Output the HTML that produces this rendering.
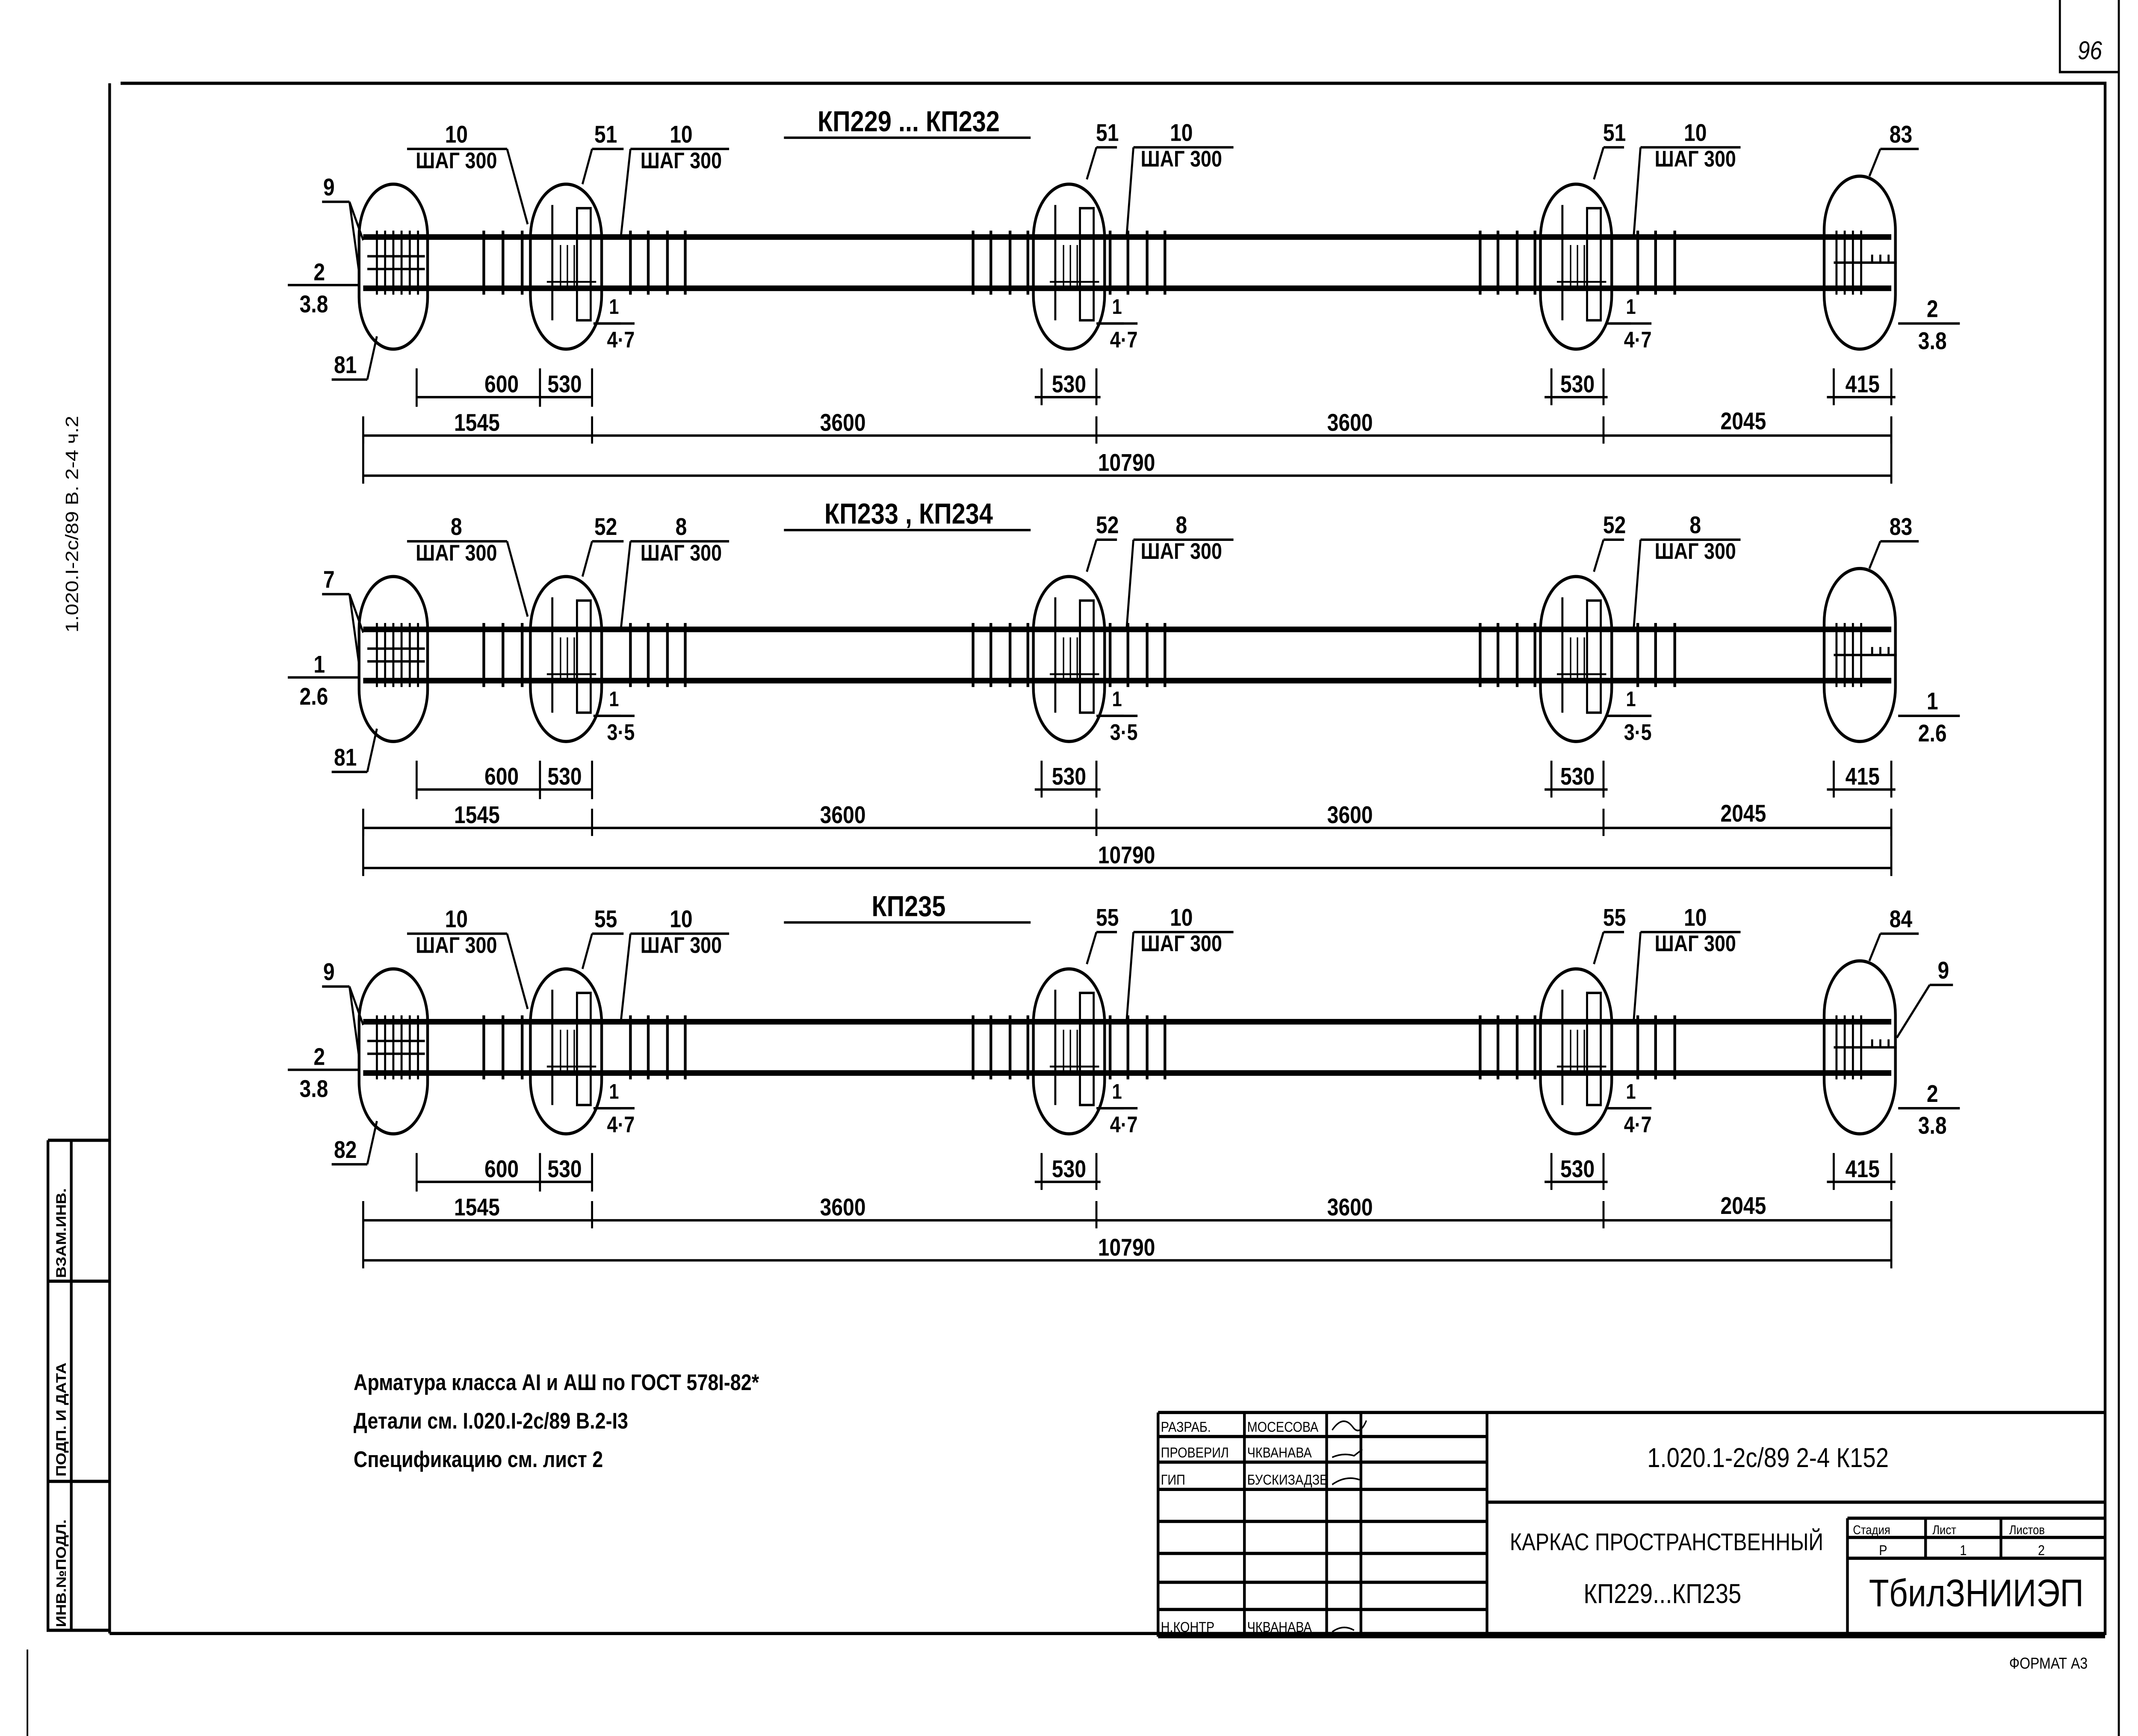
<!DOCTYPE html>
<html><head><meta charset="utf-8">
<style>
html,body{margin:0;padding:0;background:#fff;width:100%;height:100%;overflow:hidden;}
svg{display:block;position:fixed;left:0;top:0;width:100vw;height:100vh;}
text{font-family:"Liberation Sans","DejaVu Sans",sans-serif;fill:#000;}
#beams text{font-weight:bold;}
</style></head>
<body>
<svg id="s" xmlns="http://www.w3.org/2000/svg" viewBox="0 0 1560 1084" preserveAspectRatio="none">
<g stroke="#000" fill="none" stroke-width="2">
<path d="M88 52 H1536 V1020 H80"/>
<path d="M80 52 V1020"/>
<path d="M1546 0 V1084" stroke-width="1.5"/>
<path d="M1503 0 V45 H1546" stroke-width="1.5"/>
<path d="M20 1030 V1084" stroke-width="1.2"/>
<path d="M35 712 H80 M35 712 V1018 H80 M52 712 V1018 M35 800 H80 M35 925 H80"/>
</g>
<text x="1516" y="37" font-size="16" font-style="italic">96</text>
<text transform="translate(57,395) rotate(-90)" font-size="13" font-family="Liberation Mono">1.020.I-2c/89  B. 2-4  ч.2</text>
<text transform="translate(48,798) rotate(-90)" font-size="10" font-weight="bold">ВЗАМ.ИНВ.</text>
<text transform="translate(48,922) rotate(-90)" font-size="10" font-weight="bold">ПОДП. И ДАТА</text>
<text transform="translate(48,1016) rotate(-90)" font-size="10" font-weight="bold">ИНВ.№ПОДЛ.</text>
<g id="beams"></g>
<text x="258" y="868" font-size="14" font-family="Liberation Serif" font-weight="bold">Арматура класса АI и АШ по ГОСТ 578I-82*</text>
<text x="258" y="892" font-size="14" font-family="Liberation Serif" font-weight="bold">Детали см. I.020.I-2с/89 В.2-I3</text>
<text x="258" y="916" font-size="14" font-family="Liberation Serif" font-weight="bold">Спецификацию см. лист 2</text>
<g stroke="#000" fill="none" stroke-width="2">
<path d="M845 882 H1536 M845 882 V1022 M845 1022 H1536"/>
<path d="M908 882 V1022 M968 882 V1022 M993 882 V1022 M1085 882 V1022"/>
<path d="M845 897 H1085 M845 913 H1085 M845 930 H1085 M845 950 H1085 M845 970 H1085 M845 988 H1085 M845 1005 H1085"/>
<path d="M1085 938 H1536 M1348 948 V1022 M1348 948 H1536 M1405 948 V973 M1460 948 V973 M1348 960 H1536 M1348 973 H1536"/>
</g>
<g font-size="9">
<text x="847" y="894">РАЗРАБ.</text><text x="910" y="894">МОСЕСОВА</text>
<text x="847" y="910">ПРОВЕРИЛ</text><text x="910" y="910">ЧКВАНАВА</text>
<text x="847" y="927">ГИП</text><text x="910" y="927">БУСКИЗАДЗЕ</text>
<text x="847" y="1019">Н.КОНТР</text><text x="910" y="1019">ЧКВАНАВА</text>
<text x="1352" y="958" font-size="8">Стадия</text><text x="1410" y="958" font-size="8">Лист</text><text x="1466" y="958" font-size="8">Листов</text>
<text x="1371" y="971">Р</text><text x="1430" y="971">1</text><text x="1487" y="971">2</text>
</g>
<g fill="none" stroke="#000" stroke-width="1">
<path d="M972 893 q8 -10 15 -2 q5 6 10 -4"/><path d="M972 910 q8 -3 16 -1 l6 -4"/><path d="M972 927 q10 -6 20 -3"/><path d="M972 1019 q8 -5 16 -1"/>
</g>
<text x="1290" y="916" font-size="17" text-anchor="middle">1.020.1-2с/89 2-4   К152</text>
<text x="1216" y="968" font-size="15" text-anchor="middle">КАРКАС ПРОСТРАНСТВЕННЫЙ</text>
<text x="1213" y="1001" font-size="17" text-anchor="middle">КП229...КП235</text>
<text x="1442" y="1003" font-size="24" text-anchor="middle">ТбилЗНИИЭП</text>
<text x="1466" y="1042" font-size="10">ФОРМАТ А3</text>
</svg>
<script>
const NS="http://www.w3.org/2000/svg";const G=document.getElementById('beams');
function el(t,a,txt){const e=document.createElementNS(NS,t);for(const k in a)e.setAttribute(k,a[k]);if(txt!==undefined)e.textContent=txt;G.appendChild(e);return e;}
function L(x1,y1,x2,y2,w){el('line',{x1,y1,x2,y2,stroke:'#000','stroke-width':w||2});}
function T(x,y,s,sz,anc){el('text',{x,y,'font-size':sz||15,'text-anchor':anc||'middle'},s);}
function oval(cx,y0,y1,w){const rx=w/2;el('rect',{x:cx-rx,y:y0,width:w,height:y1-y0,rx:rx,ry:rx*1.3,fill:'none',stroke:'#000','stroke-width':2});}
function lead(x1,y1,x2,y2,x3){L(x1,y1,x2,y2,1.5);L(x2,y2,x3,y2,1.5);}
function beam(dy,cfg){
 const yt=148+dy,yb=180+dy,ym=164+dy;
 L(265,yt,1380,yt,3.5);L(265,yb,1380,yb,3.5);
 oval(287,115+dy,218+dy,50);oval(1357,110+dy,218+dy,52);
 [413,780,1150].forEach(c=>oval(c,115+dy,218+dy,52));
 for(let x of [275,281,287,293,299,305]) L(x,yt-4,x,yb+4,1.5);
 L(268,ym-4,310,ym-4,1.5);L(268,ym+4,310,ym+4,1.5);
 for(let x of [1340,1346,1352,1358]) L(x,yt-4,x,yb+4,1.5);
 L(1338,ym,1384,ym,1.5);for(let x of [1366,1372,1378]) L(x,ym-5,x,ym,1.5);
 const st=[353,367,381,460,473,487,500,710,723,737,750,810,823,837,850,1080,1093,1107,1120,1195,1208,1222];
 st.forEach(x=>L(x,yt-4,x,yb+4,2));
 [413,780,1150].forEach(c=>{
  L(c-10,yt-20,c-10,yb+20,1.5);
  el('rect',{x:c+8,y:yt-18,width:10,height:70,fill:'none',stroke:'#000','stroke-width':1.5});
  for(let x of [c-4,c+1,c+6]) L(x,yt+5,x,yb,1);
  L(c-14,yb-4,c+22,yb-4,1.2);
 });
 T(cfg.top1x,89+dy,cfg.bar,15);T(cfg.top1x,105+dy,'ШАГ 300',14);lead(385,140+dy,370,93+dy,297);
 T(442,89+dy,cfg.frame,15);lead(425,115+dy,432,93+dy,455);
 T(497,89+dy,cfg.bar,15);T(497,105+dy,'ШАГ 300',14);lead(453,148+dy,460,93+dy,532);
 [[780,808,862],[1150,1178,1237]].forEach(([c,fx,bx])=>{
  T(fx,88+dy,cfg.frame,15);lead(c+13,112+dy,c+20,92+dy,c+35);
  T(bx,88+dy,cfg.bar,15);T(bx,104+dy,'ШАГ 300',14);L(c+42,148+dy,c+47,92+dy,1.5);L(c+47,92+dy,c+120,92+dy,1.5);
 });
 T(1387,89+dy,cfg.end,15);lead(1364,110+dy,1372,93+dy,1400);
 if(cfg.end2){T(1418,611,'9',15);lead(1384,648,1408,615,1425);}
 T(240,122+dy,cfg.l9,15);lead(265,150+dy,255,126+dy,235);L(255,126+dy,262,170+dy,1.5);
 T(233,175+dy,cfg.fr1,15);L(210,178+dy,262,178+dy,1.5);T(229,195+dy,cfg.fr2,15);
 T(252,233+dy,cfg.l81,15);lead(275,210+dy,268,237+dy,242);
 T(1410,198+dy,cfg.fr1,15);L(1385,202+dy,1430,202+dy,1.5);T(1410,218+dy,cfg.fr2,15);
 [[453,413],[820,780],[1195,1150]].forEach(([x,c])=>{T(x-5,196+dy,'1',13);L(c+22,202+dy,c+40,202+dy,1.5);L(x-20,202+dy,x+10,202+dy,1.5);T(x,217+dy,cfg.sec,14);});
 const y1=248+dy,y2=272+dy,y3=297+dy;
 L(304,y1,432,y1,1.5);[304,394,432].forEach(x=>L(x,y1-18,x,y1+6,1.5));
 T(366,245+dy,'600',15);T(412,245+dy,'530',15);
 [[760,800],[1132,1170],[1338,1380]].forEach(([a,b],i)=>{L(a-5,y1,b+3,y1,1.5);L(a,y1-18,a,y1+5,1.5);L(b,y1-18,b,y1+5,1.5);T((a+b)/2,245+dy,i<2?'530':'415',15);});
 L(265,y2,1380,y2,1.5);[265,432,800,1170,1380].forEach(x=>L(x,y2-12,x,y2+5,1.5));
 T(348,269+dy,'1545',15);T(615,269+dy,'3600',15);T(985,269+dy,'3600',15);T(1272,268+dy,'2045',15);
 L(265,y3,1380,y3,1.5);L(265,y2,265,y3+5,1.5);L(1380,y2,1380,y3+5,1.5);
 T(822,294+dy,'10790',15);
 T(663,82+dy,cfg.title,18);L(572,86+dy,752,86+dy,1.5);
}
beam(0,{bar:'10',frame:'51',end:'83',top1x:333,l9:'9',fr1:'2',fr2:'3.8',l81:'81',sec:'4·7',title:'КП229 ... КП232'});
beam(245,{bar:'8',frame:'52',end:'83',top1x:333,l9:'7',fr1:'1',fr2:'2.6',l81:'81',sec:'3·5',title:'КП233 , КП234'});
beam(490,{bar:'10',frame:'55',end:'84',top1x:333,l9:'9',fr1:'2',fr2:'3.8',l81:'82',sec:'4·7',title:'КП235',end2:true});
</script>
</body></html>
